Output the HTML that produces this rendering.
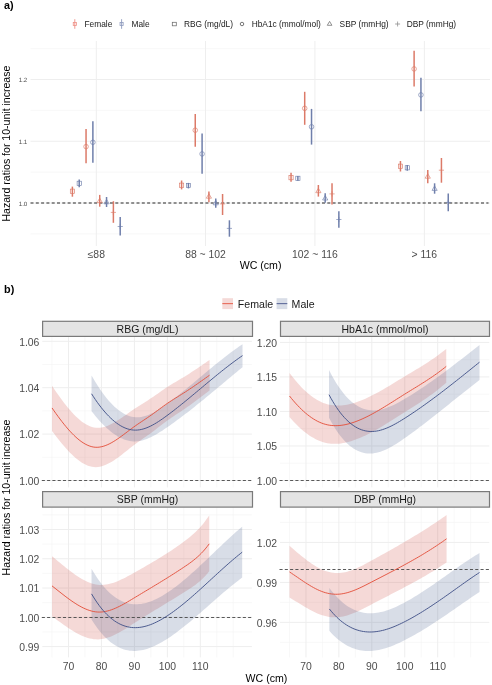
<!DOCTYPE html>
<html><head><meta charset="utf-8"><style>
html,body{margin:0;padding:0;background:#fff;}
svg{display:block;font-family:"Liberation Sans", sans-serif;will-change:transform;}
</style></head><body>
<svg width="492" height="685" viewBox="0 0 492 685">
<rect width="492" height="685" fill="#fff"/>
<text x="4.1" y="8.9" font-size="10.8" fill="#000" text-anchor="start" font-weight="bold" >a)</text>
<line x1="74.8" y1="19.2" x2="74.8" y2="28.8" stroke="#EE8F86" stroke-width="0.9"/>
<rect x="73.25" y="22.55" width="3.1" height="2.9" fill="none" stroke="#EE8F86" stroke-width="0.8"/>
<text x="84.5" y="27" font-size="8.35" fill="#1A1A1A" text-anchor="start" font-weight="normal" >Female</text>
<line x1="121.6" y1="19.2" x2="121.6" y2="28.8" stroke="#8D9ABD" stroke-width="0.9"/>
<rect x="120.05" y="22.55" width="3.1" height="2.9" fill="none" stroke="#8D9ABD" stroke-width="0.8"/>
<text x="131.5" y="27" font-size="8.35" fill="#1A1A1A" text-anchor="start" font-weight="normal" >Male</text>
<rect x="172.3" y="22.3" width="4.0" height="3.5" fill="none" stroke="#6B6B6B" stroke-width="0.75"/>
<text x="183.9" y="27" font-size="8.35" fill="#1A1A1A" text-anchor="start" font-weight="normal" >RBG (mg/dL)</text>
<circle cx="242.0" cy="24" r="1.75" fill="none" stroke="#555555" stroke-width="0.8"/>
<text x="251.7" y="27" font-size="8.35" fill="#1A1A1A" text-anchor="start" font-weight="normal" >HbA1c (mmol/mol)</text>
<path d="M327.3,25.3 L331.9,25.3 L329.6,21.4 Z" fill="none" stroke="#6B6B6B" stroke-width="0.75"/>
<text x="339.6" y="27" font-size="8.35" fill="#1A1A1A" text-anchor="start" font-weight="normal" >SBP (mmHg)</text>
<path d="M395.1,24 L400.1,24 M397.6,21.5 L397.6,26.5" fill="none" stroke="#8A8A8A" stroke-width="0.75"/>
<text x="406.7" y="27" font-size="8.35" fill="#1A1A1A" text-anchor="start" font-weight="normal" >DBP (mmHg)</text>
<line x1="30.5" y1="233.88" x2="490" y2="233.88" stroke="#F4F4F4" stroke-width="0.6"/>
<line x1="30.5" y1="172.12" x2="490" y2="172.12" stroke="#F4F4F4" stroke-width="0.6"/>
<line x1="30.5" y1="110.38" x2="490" y2="110.38" stroke="#F4F4F4" stroke-width="0.6"/>
<line x1="30.5" y1="48.62" x2="490" y2="48.62" stroke="#F4F4F4" stroke-width="0.6"/>
<line x1="30.5" y1="203" x2="490" y2="203" stroke="#EEEEEE" stroke-width="1.0"/>
<line x1="30.5" y1="141.25" x2="490" y2="141.25" stroke="#EEEEEE" stroke-width="1.0"/>
<line x1="30.5" y1="79.5" x2="490" y2="79.5" stroke="#EEEEEE" stroke-width="1.0"/>
<line x1="96.3" y1="41" x2="96.3" y2="246" stroke="#EEEEEE" stroke-width="1.0"/>
<line x1="205.5" y1="41" x2="205.5" y2="246" stroke="#EEEEEE" stroke-width="1.0"/>
<line x1="314.95" y1="41" x2="314.95" y2="246" stroke="#EEEEEE" stroke-width="1.0"/>
<line x1="424.35" y1="41" x2="424.35" y2="246" stroke="#EEEEEE" stroke-width="1.0"/>
<line x1="30.5" y1="203" x2="488.5" y2="203" stroke="#6E6E6E" stroke-width="1.5" stroke-dasharray="3 2.3"/>
<text x="27.3" y="205.5" font-size="6.2" fill="#4D4D4D" text-anchor="end" font-weight="normal" text-rendering="geometricPrecision">1.0</text>
<text x="27.3" y="143.75" font-size="6.2" fill="#4D4D4D" text-anchor="end" font-weight="normal" text-rendering="geometricPrecision">1.1</text>
<text x="27.3" y="82" font-size="6.2" fill="#4D4D4D" text-anchor="end" font-weight="normal" text-rendering="geometricPrecision">1.2</text>
<text x="96.3" y="257.9" font-size="10.4" fill="#4D4D4D" text-anchor="middle" font-weight="normal" >≤88</text>
<text x="205.5" y="257.9" font-size="10.4" fill="#4D4D4D" text-anchor="middle" font-weight="normal" >88 ~ 102</text>
<text x="314.95" y="257.9" font-size="10.4" fill="#4D4D4D" text-anchor="middle" font-weight="normal" >102 ~ 116</text>
<text x="424.35" y="257.9" font-size="10.4" fill="#4D4D4D" text-anchor="middle" font-weight="normal" >&gt; 116</text>
<text x="260.6" y="269.4" font-size="10.6" fill="#000" text-anchor="middle" font-weight="normal" >WC (cm)</text>
<text transform="translate(10.3,143.6) rotate(-90)" font-size="10.55" fill="#000" text-anchor="middle">Hazard ratios for 10-unit increase</text>
<line x1="72.39" y1="186.6" x2="72.39" y2="196.7" stroke="#DC7A68" stroke-width="1.5"/>
<rect x="70.3" y="189.1" width="4.2" height="4.2" fill="none" stroke="#DC7A68" stroke-width="0.65"/>
<line x1="79.22" y1="179.6" x2="79.22" y2="187.2" stroke="#6F7FAB" stroke-width="1.5"/>
<rect x="77.12" y="181.2" width="4.2" height="4.2" fill="none" stroke="#6F7FAB" stroke-width="0.65"/>
<line x1="86.05" y1="129.1" x2="86.05" y2="163.3" stroke="#DC7A68" stroke-width="1.5"/>
<circle cx="86.05" cy="146.6" r="2.3" fill="none" stroke="#DC7A68" stroke-width="0.65"/>
<line x1="92.88" y1="121.3" x2="92.88" y2="162.7" stroke="#6F7FAB" stroke-width="1.5"/>
<circle cx="92.88" cy="142.3" r="2.3" fill="none" stroke="#6F7FAB" stroke-width="0.65"/>
<line x1="99.72" y1="194.9" x2="99.72" y2="206.7" stroke="#DC7A68" stroke-width="1.5"/>
<path d="M97.12,202.6 L102.31,202.6 L99.72,198.1 Z" fill="none" stroke="#DC7A68" stroke-width="0.65"/>
<line x1="106.55" y1="197" x2="106.55" y2="207" stroke="#6F7FAB" stroke-width="1.5"/>
<path d="M103.95,203.8 L109.14,203.8 L106.55,199.3 Z" fill="none" stroke="#6F7FAB" stroke-width="0.65"/>
<line x1="113.38" y1="201.2" x2="113.38" y2="222.8" stroke="#DC7A68" stroke-width="1.5"/>
<path d="M110.78,212.4 L115.97,212.4 M113.38,209.8 L113.38,215" fill="none" stroke="#DC7A68" stroke-width="0.65"/>
<line x1="120.2" y1="217.1" x2="120.2" y2="235.6" stroke="#6F7FAB" stroke-width="1.5"/>
<path d="M117.61,226.5 L122.8,226.5 M120.2,223.9 L120.2,229.1" fill="none" stroke="#6F7FAB" stroke-width="0.65"/>
<line x1="181.59" y1="180.5" x2="181.59" y2="189.4" stroke="#DC7A68" stroke-width="1.5"/>
<rect x="179.5" y="183.1" width="4.2" height="4.2" fill="none" stroke="#DC7A68" stroke-width="0.65"/>
<line x1="188.43" y1="182.9" x2="188.43" y2="188.4" stroke="#6F7FAB" stroke-width="1.5"/>
<rect x="186.33" y="183.4" width="4.2" height="4.2" fill="none" stroke="#6F7FAB" stroke-width="0.65"/>
<line x1="195.25" y1="114.1" x2="195.25" y2="146.8" stroke="#DC7A68" stroke-width="1.5"/>
<circle cx="195.25" cy="130.2" r="2.3" fill="none" stroke="#DC7A68" stroke-width="0.65"/>
<line x1="202.09" y1="133.4" x2="202.09" y2="173.7" stroke="#6F7FAB" stroke-width="1.5"/>
<circle cx="202.09" cy="153.9" r="2.3" fill="none" stroke="#6F7FAB" stroke-width="0.65"/>
<line x1="208.91" y1="191.4" x2="208.91" y2="202.3" stroke="#DC7A68" stroke-width="1.5"/>
<path d="M206.31,198.2 L211.51,198.2 L208.91,193.7 Z" fill="none" stroke="#DC7A68" stroke-width="0.65"/>
<line x1="215.75" y1="198.6" x2="215.75" y2="207.8" stroke="#6F7FAB" stroke-width="1.5"/>
<path d="M213.15,204.8 L218.34,204.8 L215.75,200.3 Z" fill="none" stroke="#6F7FAB" stroke-width="0.65"/>
<line x1="222.57" y1="194" x2="222.57" y2="215" stroke="#DC7A68" stroke-width="1.5"/>
<path d="M219.97,203.9 L225.17,203.9 M222.57,201.3 L222.57,206.5" fill="none" stroke="#DC7A68" stroke-width="0.65"/>
<line x1="229.41" y1="220.3" x2="229.41" y2="236.7" stroke="#6F7FAB" stroke-width="1.5"/>
<path d="M226.81,228.4 L232,228.4 M229.41,225.8 L229.41,231" fill="none" stroke="#6F7FAB" stroke-width="0.65"/>
<line x1="291.04" y1="172.8" x2="291.04" y2="181.7" stroke="#DC7A68" stroke-width="1.5"/>
<rect x="288.94" y="175.6" width="4.2" height="4.2" fill="none" stroke="#DC7A68" stroke-width="0.65"/>
<line x1="297.88" y1="175.9" x2="297.88" y2="180.7" stroke="#6F7FAB" stroke-width="1.5"/>
<rect x="295.77" y="176.2" width="4.2" height="4.2" fill="none" stroke="#6F7FAB" stroke-width="0.65"/>
<line x1="304.7" y1="91.8" x2="304.7" y2="124.8" stroke="#DC7A68" stroke-width="1.5"/>
<circle cx="304.7" cy="108.3" r="2.3" fill="none" stroke="#DC7A68" stroke-width="0.65"/>
<line x1="311.53" y1="108.9" x2="311.53" y2="144.6" stroke="#6F7FAB" stroke-width="1.5"/>
<circle cx="311.53" cy="126.8" r="2.3" fill="none" stroke="#6F7FAB" stroke-width="0.65"/>
<line x1="318.37" y1="185" x2="318.37" y2="196.6" stroke="#DC7A68" stroke-width="1.5"/>
<path d="M315.76,192.7 L320.97,192.7 L318.37,188.2 Z" fill="none" stroke="#DC7A68" stroke-width="0.65"/>
<line x1="325.19" y1="193.2" x2="325.19" y2="202.7" stroke="#6F7FAB" stroke-width="1.5"/>
<path d="M322.59,200 L327.8,200 L325.19,195.5 Z" fill="none" stroke="#6F7FAB" stroke-width="0.65"/>
<line x1="332.02" y1="183.2" x2="332.02" y2="204.5" stroke="#DC7A68" stroke-width="1.5"/>
<path d="M329.42,193.9 L334.62,193.9 M332.02,191.3 L332.02,196.5" fill="none" stroke="#DC7A68" stroke-width="0.65"/>
<line x1="338.86" y1="211.2" x2="338.86" y2="227.7" stroke="#6F7FAB" stroke-width="1.5"/>
<path d="M336.25,219.5 L341.46,219.5 M338.86,216.9 L338.86,222.1" fill="none" stroke="#6F7FAB" stroke-width="0.65"/>
<line x1="400.45" y1="161" x2="400.45" y2="171.5" stroke="#DC7A68" stroke-width="1.5"/>
<rect x="398.35" y="164.1" width="4.2" height="4.2" fill="none" stroke="#DC7A68" stroke-width="0.65"/>
<line x1="407.28" y1="165" x2="407.28" y2="170.7" stroke="#6F7FAB" stroke-width="1.5"/>
<rect x="405.18" y="165.7" width="4.2" height="4.2" fill="none" stroke="#6F7FAB" stroke-width="0.65"/>
<line x1="414.11" y1="50.7" x2="414.11" y2="86.6" stroke="#DC7A68" stroke-width="1.5"/>
<circle cx="414.11" cy="68.9" r="2.3" fill="none" stroke="#DC7A68" stroke-width="0.65"/>
<line x1="420.94" y1="77.8" x2="420.94" y2="111.3" stroke="#6F7FAB" stroke-width="1.5"/>
<circle cx="420.94" cy="94.9" r="2.3" fill="none" stroke="#6F7FAB" stroke-width="0.65"/>
<line x1="427.77" y1="169.9" x2="427.77" y2="183.3" stroke="#DC7A68" stroke-width="1.5"/>
<path d="M425.17,178.2 L430.37,178.2 L427.77,173.7 Z" fill="none" stroke="#DC7A68" stroke-width="0.65"/>
<line x1="434.6" y1="183.3" x2="434.6" y2="193.7" stroke="#6F7FAB" stroke-width="1.5"/>
<path d="M432,190.4 L437.2,190.4 L434.6,185.9 Z" fill="none" stroke="#6F7FAB" stroke-width="0.65"/>
<line x1="441.43" y1="158" x2="441.43" y2="182.7" stroke="#DC7A68" stroke-width="1.5"/>
<path d="M438.82,170.2 L444.03,170.2 M441.43,167.6 L441.43,172.8" fill="none" stroke="#DC7A68" stroke-width="0.65"/>
<line x1="448.25" y1="193.4" x2="448.25" y2="211.3" stroke="#6F7FAB" stroke-width="1.5"/>
<path d="M445.65,202.4 L450.86,202.4 M448.25,199.8 L448.25,205" fill="none" stroke="#6F7FAB" stroke-width="0.65"/>
<text x="4.1" y="293.2" font-size="10.8" fill="#000" text-anchor="start" font-weight="bold" >b)</text>
<rect x="222.3" y="298.2" width="10.7" height="10.9" fill="rgba(204,64,56,0.2)"/>
<line x1="222.3" y1="303.65" x2="233" y2="303.65" stroke="#E4533F" stroke-width="0.9"/>
<text x="237.8" y="307.9" font-size="10.6" fill="#1A1A1A" text-anchor="start" font-weight="normal" >Female</text>
<rect x="276.6" y="298.2" width="10.7" height="10.9" fill="rgba(60,84,136,0.2)"/>
<line x1="276.6" y1="303.65" x2="287.3" y2="303.65" stroke="#45548A" stroke-width="0.9"/>
<text x="291.6" y="307.9" font-size="10.6" fill="#1A1A1A" text-anchor="start" font-weight="normal" >Male</text>
<g>
<line x1="42.3" y1="457.3" x2="251.9" y2="457.3" stroke="#F4F4F4" stroke-width="0.6"/>
<line x1="42.3" y1="410.9" x2="251.9" y2="410.9" stroke="#F4F4F4" stroke-width="0.6"/>
<line x1="42.3" y1="364.5" x2="251.9" y2="364.5" stroke="#F4F4F4" stroke-width="0.6"/>
<line x1="52" y1="336.9" x2="52" y2="487.4" stroke="#F4F4F4" stroke-width="0.6"/>
<line x1="84.96" y1="336.9" x2="84.96" y2="487.4" stroke="#F4F4F4" stroke-width="0.6"/>
<line x1="117.92" y1="336.9" x2="117.92" y2="487.4" stroke="#F4F4F4" stroke-width="0.6"/>
<line x1="150.88" y1="336.9" x2="150.88" y2="487.4" stroke="#F4F4F4" stroke-width="0.6"/>
<line x1="183.84" y1="336.9" x2="183.84" y2="487.4" stroke="#F4F4F4" stroke-width="0.6"/>
<line x1="216.8" y1="336.9" x2="216.8" y2="487.4" stroke="#F4F4F4" stroke-width="0.6"/>
<line x1="233.28" y1="336.9" x2="233.28" y2="487.4" stroke="#F4F4F4" stroke-width="0.6"/>
<line x1="42.3" y1="480.5" x2="251.9" y2="480.5" stroke="#EEEEEE" stroke-width="1.0"/>
<line x1="42.3" y1="434.1" x2="251.9" y2="434.1" stroke="#EEEEEE" stroke-width="1.0"/>
<line x1="42.3" y1="387.7" x2="251.9" y2="387.7" stroke="#EEEEEE" stroke-width="1.0"/>
<line x1="42.3" y1="341.3" x2="251.9" y2="341.3" stroke="#EEEEEE" stroke-width="1.0"/>
<line x1="68.48" y1="336.9" x2="68.48" y2="487.4" stroke="#EEEEEE" stroke-width="1.0"/>
<line x1="101.44" y1="336.9" x2="101.44" y2="487.4" stroke="#EEEEEE" stroke-width="1.0"/>
<line x1="134.4" y1="336.9" x2="134.4" y2="487.4" stroke="#EEEEEE" stroke-width="1.0"/>
<line x1="167.36" y1="336.9" x2="167.36" y2="487.4" stroke="#EEEEEE" stroke-width="1.0"/>
<line x1="200.32" y1="336.9" x2="200.32" y2="487.4" stroke="#EEEEEE" stroke-width="1.0"/>
</g>
<polygon points="52.00,385.74 53.99,388.72 55.99,391.66 57.98,394.53 59.98,397.34 61.97,400.07 63.97,402.73 65.96,405.29 67.95,407.76 69.95,410.12 71.94,412.37 73.94,414.49 75.93,416.49 77.93,418.36 79.92,420.08 81.91,421.64 83.91,423.05 85.90,424.29 87.90,425.36 89.89,426.25 91.89,426.94 93.88,427.43 95.87,427.72 97.87,427.81 99.86,427.71 101.86,427.43 103.85,426.98 105.85,426.39 107.84,425.65 109.83,424.79 111.83,423.82 113.82,422.74 115.82,421.58 117.81,420.34 119.81,419.05 121.80,417.70 123.79,416.31 125.79,414.91 127.78,413.49 129.78,412.07 131.77,410.67 133.77,409.30 135.76,407.97 137.75,406.67 139.75,405.40 141.74,404.15 143.74,402.91 145.73,401.66 147.73,400.40 149.72,399.11 151.71,397.79 153.71,396.43 155.70,395.05 157.70,393.65 159.69,392.25 161.69,390.85 163.68,389.47 165.67,388.12 167.67,386.80 169.66,385.53 171.66,384.29 173.65,383.08 175.65,381.89 177.64,380.71 179.63,379.54 181.63,378.35 183.62,377.15 185.62,375.93 187.61,374.68 189.61,373.41 191.60,372.12 193.59,370.81 195.59,369.49 197.58,368.15 199.58,366.80 201.57,365.44 203.57,364.07 205.56,362.69 207.55,361.31 209.55,359.93 209.55,390.51 207.55,392.04 205.56,393.57 203.57,395.09 201.57,396.60 199.58,398.10 197.58,399.60 195.59,401.07 193.59,402.54 191.60,403.98 189.61,405.41 187.61,406.82 185.62,408.20 183.62,409.56 181.63,410.90 179.63,412.22 177.64,413.53 175.65,414.85 173.65,416.18 171.66,417.52 169.66,418.89 167.67,420.30 165.67,421.76 163.68,423.25 161.69,424.77 159.69,426.30 157.70,427.85 155.70,429.39 153.71,430.91 151.71,432.41 149.72,433.88 147.73,435.31 145.73,436.72 143.74,438.11 141.74,439.50 139.75,440.91 137.75,442.33 135.76,443.78 133.77,445.27 131.77,446.80 129.78,448.36 127.78,449.94 125.79,451.52 123.79,453.09 121.80,454.65 119.81,456.17 117.81,457.64 115.82,459.05 113.82,460.40 111.83,461.65 109.83,462.82 107.84,463.87 105.85,464.79 103.85,465.59 101.86,466.23 99.86,466.71 97.87,467.02 95.87,467.14 93.88,467.07 91.89,466.79 89.89,466.32 87.90,465.66 85.90,464.82 83.91,463.81 81.91,462.64 79.92,461.32 77.93,459.84 75.93,458.23 73.94,456.49 71.94,454.62 69.95,452.64 67.95,450.55 65.96,448.36 63.97,446.08 61.97,443.71 59.98,441.26 57.98,438.75 55.99,436.18 53.99,433.55 52.00,430.88" fill="rgba(204,64,56,0.2)"/>
<polygon points="91.55,375.40 93.46,378.72 95.37,381.92 97.28,384.99 99.20,387.93 101.11,390.74 103.02,393.42 104.93,395.97 106.84,398.38 108.75,400.65 110.66,402.79 112.57,404.78 114.48,406.64 116.39,408.35 118.30,409.92 120.21,411.34 122.13,412.62 124.04,413.74 125.95,414.71 127.86,415.53 129.77,416.20 131.68,416.71 133.59,417.06 135.50,417.26 137.41,417.30 139.32,417.19 141.23,416.94 143.14,416.56 145.06,416.05 146.97,415.43 148.88,414.70 150.79,413.87 152.70,412.95 154.61,411.94 156.52,410.85 158.43,409.70 160.34,408.48 162.25,407.21 164.16,405.89 166.07,404.54 167.99,403.15 169.90,401.74 171.81,400.31 173.72,398.85 175.63,397.37 177.54,395.88 179.45,394.37 181.36,392.84 183.27,391.30 185.18,389.74 187.09,388.17 189.01,386.60 190.92,385.01 192.83,383.42 194.74,381.82 196.65,380.22 198.56,378.61 200.47,377.00 202.38,375.40 204.29,373.79 206.20,372.19 208.11,370.59 210.02,369.00 211.94,367.41 213.85,365.84 215.76,364.27 217.67,362.72 219.58,361.17 221.49,359.65 223.40,358.14 225.31,356.64 227.22,355.17 229.13,353.72 231.04,352.29 232.95,350.88 234.87,349.49 236.78,348.14 238.69,346.81 240.60,345.51 242.51,344.24 242.51,367.15 240.60,368.73 238.69,370.31 236.78,371.90 234.87,373.49 232.95,375.08 231.04,376.68 229.13,378.27 227.22,379.87 225.31,381.47 223.40,383.07 221.49,384.67 219.58,386.26 217.67,387.86 215.76,389.45 213.85,391.04 211.94,392.62 210.02,394.20 208.11,395.78 206.20,397.35 204.29,398.92 202.38,400.47 200.47,402.03 198.56,403.57 196.65,405.10 194.74,406.63 192.83,408.15 190.92,409.65 189.01,411.15 187.09,412.64 185.18,414.11 183.27,415.57 181.36,417.02 179.45,418.45 177.54,419.87 175.63,421.28 173.72,422.67 171.81,424.04 169.90,425.40 167.99,426.74 166.07,428.06 164.16,429.36 162.25,430.63 160.34,431.87 158.43,433.06 156.52,434.20 154.61,435.28 152.70,436.30 150.79,437.25 148.88,438.12 146.97,438.90 145.06,439.59 143.14,440.19 141.23,440.67 139.32,441.05 137.41,441.30 135.50,441.43 133.59,441.43 131.68,441.28 129.77,441.01 127.86,440.60 125.95,440.06 124.04,439.40 122.13,438.61 120.21,437.70 118.30,436.68 116.39,435.53 114.48,434.27 112.57,432.90 110.66,431.42 108.75,429.84 106.84,428.15 104.93,426.35 103.02,424.46 101.11,422.47 99.20,420.39 97.28,418.22 95.37,415.95 93.46,413.60 91.55,411.17" fill="rgba(60,84,136,0.2)"/>
<line x1="41.8" y1="480.5" x2="251.9" y2="480.5" stroke="#474747" stroke-width="0.9" stroke-dasharray="3.1 2.19"/>
<polyline points="52.00,407.94 53.99,410.79 55.99,413.60 57.98,416.34 59.98,419.02 61.97,421.63 63.97,424.16 65.96,426.60 67.95,428.94 69.95,431.18 71.94,433.31 73.94,435.32 75.93,437.20 77.93,438.94 79.92,440.54 81.91,441.99 83.91,443.29 85.90,444.41 87.90,445.37 89.89,446.14 91.89,446.72 93.88,447.11 95.87,447.29 97.87,447.27 99.86,447.06 101.86,446.67 103.85,446.12 105.85,445.42 107.84,444.58 109.83,443.62 111.83,442.54 113.82,441.37 115.82,440.11 117.81,438.77 119.81,437.38 121.80,435.93 123.79,434.46 125.79,432.96 127.78,431.45 129.78,429.94 131.77,428.45 133.77,426.99 135.76,425.57 137.75,424.19 139.75,422.84 141.74,421.50 143.74,420.18 145.73,418.85 147.73,417.51 149.72,416.14 151.71,414.74 153.71,413.31 155.70,411.85 157.70,410.38 159.69,408.90 161.69,407.44 163.68,405.99 165.67,404.56 167.67,403.18 169.66,401.84 171.66,400.54 173.65,399.27 175.65,398.02 177.64,396.78 179.63,395.54 181.63,394.30 183.62,393.04 185.62,391.76 187.61,390.46 189.61,389.14 191.60,387.80 193.59,386.44 195.59,385.07 197.58,383.68 199.58,382.29 201.57,380.88 203.57,379.47 205.56,378.05 207.55,376.63 209.55,375.21" fill="none" stroke="#E4533F" stroke-width="0.95"/>
<polyline points="91.55,393.78 93.46,396.73 95.37,399.57 97.28,402.30 99.20,404.92 101.11,407.41 103.02,409.79 104.93,412.04 106.84,414.18 108.75,416.18 110.66,418.07 112.57,419.82 114.48,421.44 116.39,422.93 118.30,424.28 120.21,425.50 122.13,426.59 124.04,427.53 125.95,428.33 127.86,428.98 129.77,429.49 131.68,429.86 133.59,430.07 135.50,430.14 137.41,430.05 139.32,429.83 141.23,429.48 143.14,429.00 145.06,428.40 146.97,427.69 148.88,426.88 150.79,425.98 152.70,424.99 154.61,423.92 156.52,422.78 158.43,421.58 160.34,420.31 162.25,419.00 164.16,417.65 166.07,416.27 167.99,414.86 169.90,413.42 171.81,411.97 173.72,410.50 175.63,409.01 177.54,407.51 179.45,405.99 181.36,404.46 183.27,402.91 185.18,401.36 187.09,399.79 189.01,398.22 190.92,396.64 192.83,395.05 194.74,393.46 196.65,391.87 198.56,390.27 200.47,388.67 202.38,387.07 204.29,385.47 206.20,383.87 208.11,382.28 210.02,380.69 211.94,379.11 213.85,377.54 215.76,375.97 217.67,374.42 219.58,372.87 221.49,371.34 223.40,369.82 225.31,368.31 227.22,366.82 229.13,365.35 231.04,363.89 232.95,362.46 234.87,361.04 236.78,359.65 238.69,358.28 240.60,356.93 242.51,355.61" fill="none" stroke="#45548A" stroke-width="0.95"/>
<rect x="42.6" y="321.3" width="209.9" height="15.1" fill="#E4E4E4" stroke="#7A7A7A" stroke-width="1.2"/>
<text x="147.55" y="332.8" font-size="10.5" fill="#1A1A1A" text-anchor="middle" font-weight="normal" >RBG (mg/dL)</text>
<text x="39.4" y="484.7" font-size="10.4" fill="#4D4D4D" text-anchor="end" font-weight="normal" >1.00</text>
<text x="39.4" y="438.3" font-size="10.4" fill="#4D4D4D" text-anchor="end" font-weight="normal" >1.02</text>
<text x="39.4" y="391.9" font-size="10.4" fill="#4D4D4D" text-anchor="end" font-weight="normal" >1.04</text>
<text x="39.4" y="345.5" font-size="10.4" fill="#4D4D4D" text-anchor="end" font-weight="normal" >1.06</text>
<g>
<line x1="280" y1="463.24" x2="489.3" y2="463.24" stroke="#F4F4F4" stroke-width="0.6"/>
<line x1="280" y1="428.71" x2="489.3" y2="428.71" stroke="#F4F4F4" stroke-width="0.6"/>
<line x1="280" y1="394.19" x2="489.3" y2="394.19" stroke="#F4F4F4" stroke-width="0.6"/>
<line x1="280" y1="359.66" x2="489.3" y2="359.66" stroke="#F4F4F4" stroke-width="0.6"/>
<line x1="289.5" y1="336.9" x2="289.5" y2="487.4" stroke="#F4F4F4" stroke-width="0.6"/>
<line x1="322.43" y1="336.9" x2="322.43" y2="487.4" stroke="#F4F4F4" stroke-width="0.6"/>
<line x1="355.36" y1="336.9" x2="355.36" y2="487.4" stroke="#F4F4F4" stroke-width="0.6"/>
<line x1="388.29" y1="336.9" x2="388.29" y2="487.4" stroke="#F4F4F4" stroke-width="0.6"/>
<line x1="421.22" y1="336.9" x2="421.22" y2="487.4" stroke="#F4F4F4" stroke-width="0.6"/>
<line x1="454.15" y1="336.9" x2="454.15" y2="487.4" stroke="#F4F4F4" stroke-width="0.6"/>
<line x1="470.62" y1="336.9" x2="470.62" y2="487.4" stroke="#F4F4F4" stroke-width="0.6"/>
<line x1="280" y1="480.5" x2="489.3" y2="480.5" stroke="#EEEEEE" stroke-width="1.0"/>
<line x1="280" y1="445.97" x2="489.3" y2="445.97" stroke="#EEEEEE" stroke-width="1.0"/>
<line x1="280" y1="411.45" x2="489.3" y2="411.45" stroke="#EEEEEE" stroke-width="1.0"/>
<line x1="280" y1="376.93" x2="489.3" y2="376.93" stroke="#EEEEEE" stroke-width="1.0"/>
<line x1="280" y1="342.4" x2="489.3" y2="342.4" stroke="#EEEEEE" stroke-width="1.0"/>
<line x1="305.96" y1="336.9" x2="305.96" y2="487.4" stroke="#EEEEEE" stroke-width="1.0"/>
<line x1="338.89" y1="336.9" x2="338.89" y2="487.4" stroke="#EEEEEE" stroke-width="1.0"/>
<line x1="371.82" y1="336.9" x2="371.82" y2="487.4" stroke="#EEEEEE" stroke-width="1.0"/>
<line x1="404.75" y1="336.9" x2="404.75" y2="487.4" stroke="#EEEEEE" stroke-width="1.0"/>
<line x1="437.69" y1="336.9" x2="437.69" y2="487.4" stroke="#EEEEEE" stroke-width="1.0"/>
</g>
<polygon points="289.50,373.00 291.48,375.61 293.47,378.12 295.45,380.52 297.44,382.83 299.42,385.04 301.40,387.14 303.39,389.13 305.37,391.02 307.36,392.80 309.34,394.47 311.33,396.02 313.31,397.46 315.29,398.79 317.28,399.99 319.26,401.08 321.25,402.05 323.23,402.89 325.21,403.61 327.20,404.21 329.18,404.70 331.17,405.08 333.15,405.36 335.14,405.53 337.12,405.61 339.10,405.60 341.09,405.49 343.07,405.31 345.06,405.04 347.04,404.70 349.02,404.28 351.01,403.80 352.99,403.26 354.98,402.65 356.96,402.00 358.94,401.29 360.93,400.53 362.91,399.72 364.90,398.88 366.88,397.99 368.87,397.06 370.85,396.09 372.83,395.09 374.82,394.06 376.80,393.00 378.79,391.91 380.77,390.80 382.75,389.66 384.74,388.51 386.72,387.34 388.71,386.16 390.69,384.96 392.68,383.76 394.66,382.55 396.64,381.34 398.63,380.12 400.61,378.90 402.60,377.69 404.58,376.49 406.56,375.29 408.55,374.10 410.53,372.91 412.52,371.72 414.50,370.53 416.48,369.33 418.47,368.13 420.45,366.92 422.44,365.69 424.42,364.45 426.41,363.19 428.39,361.90 430.37,360.60 432.36,359.26 434.34,357.90 436.33,356.50 438.31,355.07 440.29,353.60 442.28,352.09 444.26,350.54 446.25,348.94 446.25,382.64 444.26,384.40 442.28,386.10 440.29,387.76 438.31,389.37 436.33,390.93 434.34,392.45 432.36,393.93 430.37,395.37 428.39,396.79 426.41,398.17 424.42,399.53 422.44,400.86 420.45,402.17 418.47,403.46 416.48,404.74 414.50,406.01 412.52,407.27 410.53,408.52 408.55,409.78 406.56,411.03 404.58,412.28 402.60,413.54 400.61,414.81 398.63,416.08 396.64,417.34 394.66,418.61 392.68,419.86 390.69,421.11 388.71,422.36 386.72,423.59 384.74,424.80 382.75,426.00 380.77,427.18 378.79,428.34 376.80,429.48 374.82,430.59 372.83,431.68 370.85,432.74 368.87,433.76 366.88,434.75 364.90,435.71 362.91,436.62 360.93,437.50 358.94,438.33 356.96,439.12 354.98,439.86 352.99,440.55 351.01,441.18 349.02,441.76 347.04,442.28 345.06,442.73 343.07,443.11 341.09,443.42 339.10,443.65 337.12,443.79 335.14,443.86 333.15,443.83 331.17,443.71 329.18,443.49 327.20,443.17 325.21,442.75 323.23,442.22 321.25,441.57 319.26,440.81 317.28,439.94 315.29,438.96 313.31,437.87 311.33,436.68 309.34,435.38 307.36,433.98 305.37,432.48 303.39,430.88 301.40,429.19 299.42,427.40 297.44,425.52 295.45,423.55 293.47,421.49 291.48,419.35 289.50,417.12" fill="rgba(204,64,56,0.2)"/>
<polygon points="329.02,370.04 330.92,373.74 332.83,377.25 334.73,380.55 336.64,383.66 338.54,386.57 340.45,389.29 342.35,391.84 344.26,394.19 346.16,396.38 348.07,398.39 349.97,400.22 351.88,401.90 353.78,403.41 355.69,404.76 357.59,405.96 359.50,407.00 361.40,407.90 363.30,408.66 365.21,409.27 367.11,409.75 369.02,410.10 370.92,410.32 372.83,410.41 374.73,410.39 376.64,410.25 378.54,410.00 380.45,409.65 382.35,409.21 384.26,408.68 386.16,408.06 388.07,407.37 389.97,406.60 391.88,405.77 393.78,404.88 395.69,403.93 397.59,402.94 399.50,401.91 401.40,400.84 403.31,399.74 405.21,398.62 407.12,397.48 409.02,396.32 410.93,395.15 412.83,393.95 414.74,392.74 416.64,391.52 418.55,390.28 420.45,389.02 422.36,387.75 424.26,386.46 426.17,385.16 428.07,383.84 429.98,382.52 431.88,381.18 433.79,379.82 435.69,378.46 437.60,377.08 439.50,375.70 441.41,374.30 443.31,372.90 445.22,371.48 447.12,370.06 449.03,368.63 450.93,367.19 452.84,365.74 454.74,364.28 456.65,362.82 458.55,361.36 460.46,359.88 462.36,358.41 464.27,356.92 466.17,355.44 468.08,353.95 469.98,352.45 471.89,350.96 473.79,349.46 475.70,347.96 477.60,346.46 479.51,344.96 479.51,380.04 477.60,381.50 475.70,382.97 473.79,384.44 471.89,385.93 469.98,387.42 468.08,388.92 466.17,390.43 464.27,391.94 462.36,393.45 460.46,394.97 458.55,396.49 456.65,398.02 454.74,399.54 452.84,401.07 450.93,402.60 449.03,404.13 447.12,405.66 445.22,407.18 443.31,408.71 441.41,410.23 439.50,411.75 437.60,413.26 435.69,414.77 433.79,416.28 431.88,417.78 429.98,419.27 428.07,420.76 426.17,422.23 424.26,423.70 422.36,425.16 420.45,426.61 418.55,428.05 416.64,429.48 414.74,430.90 412.83,432.30 410.93,433.69 409.02,435.07 407.12,436.43 405.21,437.78 403.31,439.11 401.40,440.42 399.50,441.70 397.59,442.95 395.69,444.17 393.78,445.33 391.88,446.45 389.97,447.50 388.07,448.49 386.16,449.42 384.26,450.26 382.35,451.02 380.45,451.70 378.54,452.28 376.64,452.75 374.73,453.12 372.83,453.38 370.92,453.51 369.02,453.52 367.11,453.41 365.21,453.15 363.30,452.77 361.40,452.24 359.50,451.56 357.59,450.74 355.69,449.76 353.78,448.63 351.88,447.34 349.97,445.88 348.07,444.25 346.16,442.45 344.26,440.48 342.35,438.32 340.45,435.98 338.54,433.45 336.64,430.73 334.73,427.81 332.83,424.69 330.92,421.37 329.02,417.84" fill="rgba(60,84,136,0.2)"/>
<line x1="279.5" y1="480.5" x2="489.3" y2="480.5" stroke="#474747" stroke-width="0.9" stroke-dasharray="3.1 2.19"/>
<polyline points="289.50,395.99 291.48,398.45 293.47,400.82 295.45,403.09 297.44,405.25 299.42,407.32 301.40,409.29 303.39,411.15 305.37,412.91 307.36,414.55 309.34,416.09 311.33,417.52 313.31,418.84 315.29,420.04 317.28,421.13 319.26,422.10 321.25,422.95 323.23,423.68 325.21,424.28 327.20,424.78 329.18,425.16 331.17,425.43 333.15,425.60 335.14,425.67 337.12,425.65 339.10,425.54 341.09,425.34 343.07,425.05 345.06,424.69 347.04,424.26 349.02,423.76 351.01,423.19 352.99,422.56 354.98,421.87 356.96,421.13 358.94,420.34 360.93,419.51 362.91,418.63 364.90,417.70 366.88,416.74 368.87,415.74 370.85,414.71 372.83,413.64 374.82,412.54 376.80,411.42 378.79,410.27 380.77,409.10 382.75,407.91 384.74,406.70 386.72,405.48 388.71,404.25 390.69,403.00 392.68,401.75 394.66,400.50 396.64,399.24 398.63,397.98 400.61,396.73 402.60,395.48 404.58,394.23 406.56,393.00 408.55,391.78 410.53,390.56 412.52,389.34 414.50,388.13 416.48,386.91 418.47,385.68 420.45,384.45 422.44,383.20 424.42,381.94 426.41,380.67 428.39,379.37 430.37,378.05 432.36,376.71 434.34,375.34 436.33,373.94 438.31,372.51 440.29,371.04 442.28,369.53 444.26,367.97 446.25,366.38" fill="none" stroke="#E4533F" stroke-width="0.95"/>
<polyline points="329.02,394.70 330.92,398.21 332.83,401.53 334.73,404.64 336.64,407.56 338.54,410.30 340.45,412.85 342.35,415.21 344.26,417.40 346.16,419.42 348.07,421.26 349.97,422.94 351.88,424.46 353.78,425.81 355.69,427.02 357.59,428.07 359.50,428.97 361.40,429.72 363.30,430.34 365.21,430.82 367.11,431.17 369.02,431.39 370.92,431.48 372.83,431.45 374.73,431.31 376.64,431.05 378.54,430.69 380.45,430.23 382.35,429.67 384.26,429.03 386.16,428.31 388.07,427.51 389.97,426.64 391.88,425.72 393.78,424.73 395.69,423.69 397.59,422.61 399.50,421.49 401.40,420.33 403.31,419.15 405.21,417.94 407.12,416.72 409.02,415.49 410.93,414.23 412.83,412.96 414.74,411.68 416.64,410.38 418.55,409.07 420.45,407.74 422.36,406.41 424.26,405.05 426.17,403.69 428.07,402.31 429.98,400.93 431.88,399.53 433.79,398.12 435.69,396.70 437.60,395.27 439.50,393.83 441.41,392.38 443.31,390.93 445.22,389.46 447.12,387.99 449.03,386.51 450.93,385.02 452.84,383.53 454.74,382.03 456.65,380.53 458.55,379.02 460.46,377.50 462.36,375.98 464.27,374.46 466.17,372.93 468.08,371.40 469.98,369.87 471.89,368.34 473.79,366.80 475.70,365.27 477.60,363.73 479.51,362.19" fill="none" stroke="#45548A" stroke-width="0.95"/>
<rect x="280.5" y="321.3" width="209" height="15.1" fill="#E4E4E4" stroke="#7A7A7A" stroke-width="1.2"/>
<text x="385" y="332.8" font-size="10.5" fill="#1A1A1A" text-anchor="middle" font-weight="normal" >HbA1c (mmol/mol)</text>
<text x="277.1" y="484.7" font-size="10.4" fill="#4D4D4D" text-anchor="end" font-weight="normal" >1.00</text>
<text x="277.1" y="450.17" font-size="10.4" fill="#4D4D4D" text-anchor="end" font-weight="normal" >1.05</text>
<text x="277.1" y="415.65" font-size="10.4" fill="#4D4D4D" text-anchor="end" font-weight="normal" >1.10</text>
<text x="277.1" y="381.13" font-size="10.4" fill="#4D4D4D" text-anchor="end" font-weight="normal" >1.15</text>
<text x="277.1" y="346.6" font-size="10.4" fill="#4D4D4D" text-anchor="end" font-weight="normal" >1.20</text>
<g>
<line x1="42.3" y1="631.94" x2="251.9" y2="631.94" stroke="#F4F4F4" stroke-width="0.6"/>
<line x1="42.3" y1="602.66" x2="251.9" y2="602.66" stroke="#F4F4F4" stroke-width="0.6"/>
<line x1="42.3" y1="573.38" x2="251.9" y2="573.38" stroke="#F4F4F4" stroke-width="0.6"/>
<line x1="42.3" y1="544.1" x2="251.9" y2="544.1" stroke="#F4F4F4" stroke-width="0.6"/>
<line x1="42.3" y1="514.82" x2="251.9" y2="514.82" stroke="#F4F4F4" stroke-width="0.6"/>
<line x1="52" y1="507.5" x2="52" y2="657.4" stroke="#F4F4F4" stroke-width="0.6"/>
<line x1="84.96" y1="507.5" x2="84.96" y2="657.4" stroke="#F4F4F4" stroke-width="0.6"/>
<line x1="117.92" y1="507.5" x2="117.92" y2="657.4" stroke="#F4F4F4" stroke-width="0.6"/>
<line x1="150.88" y1="507.5" x2="150.88" y2="657.4" stroke="#F4F4F4" stroke-width="0.6"/>
<line x1="183.84" y1="507.5" x2="183.84" y2="657.4" stroke="#F4F4F4" stroke-width="0.6"/>
<line x1="216.8" y1="507.5" x2="216.8" y2="657.4" stroke="#F4F4F4" stroke-width="0.6"/>
<line x1="233.28" y1="507.5" x2="233.28" y2="657.4" stroke="#F4F4F4" stroke-width="0.6"/>
<line x1="42.3" y1="646.58" x2="251.9" y2="646.58" stroke="#EEEEEE" stroke-width="1.0"/>
<line x1="42.3" y1="617.3" x2="251.9" y2="617.3" stroke="#EEEEEE" stroke-width="1.0"/>
<line x1="42.3" y1="588.02" x2="251.9" y2="588.02" stroke="#EEEEEE" stroke-width="1.0"/>
<line x1="42.3" y1="558.74" x2="251.9" y2="558.74" stroke="#EEEEEE" stroke-width="1.0"/>
<line x1="42.3" y1="529.46" x2="251.9" y2="529.46" stroke="#EEEEEE" stroke-width="1.0"/>
<line x1="68.48" y1="507.5" x2="68.48" y2="657.4" stroke="#EEEEEE" stroke-width="1.0"/>
<line x1="101.44" y1="507.5" x2="101.44" y2="657.4" stroke="#EEEEEE" stroke-width="1.0"/>
<line x1="134.4" y1="507.5" x2="134.4" y2="657.4" stroke="#EEEEEE" stroke-width="1.0"/>
<line x1="167.36" y1="507.5" x2="167.36" y2="657.4" stroke="#EEEEEE" stroke-width="1.0"/>
<line x1="200.32" y1="507.5" x2="200.32" y2="657.4" stroke="#EEEEEE" stroke-width="1.0"/>
</g>
<polygon points="52.00,556.24 53.99,557.86 55.98,559.49 57.97,561.14 59.96,562.78 61.95,564.42 63.94,566.05 65.93,567.65 67.92,569.23 69.91,570.78 71.90,572.28 73.89,573.73 75.88,575.13 77.87,576.46 79.86,577.72 81.85,578.91 83.84,580.01 85.83,581.02 87.82,581.93 89.81,582.73 91.80,583.42 93.79,583.99 95.78,584.43 97.77,584.74 99.76,584.90 101.75,584.93 103.74,584.83 105.73,584.61 107.72,584.27 109.71,583.83 111.70,583.29 113.69,582.65 115.68,581.94 117.67,581.15 119.66,580.29 121.65,579.37 123.64,578.40 125.63,577.39 127.62,576.34 129.61,575.26 131.60,574.16 133.59,573.05 135.58,571.93 137.58,570.81 139.57,569.68 141.56,568.55 143.55,567.42 145.54,566.27 147.53,565.12 149.52,563.96 151.51,562.79 153.50,561.62 155.49,560.43 157.48,559.22 159.47,558.01 161.46,556.78 163.45,555.53 165.44,554.27 167.43,552.99 169.42,551.69 171.41,550.38 173.40,549.04 175.39,547.69 177.38,546.31 179.37,544.91 181.36,543.48 183.35,542.03 185.34,540.55 187.33,539.04 189.32,537.47 191.31,535.83 193.30,534.11 195.29,532.29 197.28,530.35 199.27,528.28 201.26,526.06 203.25,523.68 205.24,521.11 207.23,518.36 209.22,515.39 209.22,571.31 207.23,573.72 205.24,575.96 203.25,578.02 201.26,579.93 199.27,581.71 197.28,583.36 195.29,584.91 193.30,586.37 191.31,587.75 189.32,589.07 187.33,590.34 185.34,591.59 183.35,592.82 181.36,594.04 179.37,595.26 177.38,596.48 175.39,597.70 173.40,598.91 171.41,600.13 169.42,601.34 167.43,602.56 165.44,603.77 163.45,604.98 161.46,606.20 159.47,607.41 157.48,608.63 155.49,609.85 153.50,611.08 151.51,612.31 149.52,613.54 147.53,614.77 145.54,616.01 143.55,617.26 141.56,618.51 139.57,619.77 137.58,621.03 135.58,622.31 133.59,623.59 131.60,624.87 129.61,626.15 127.62,627.42 125.63,628.66 123.64,629.88 121.65,631.06 119.66,632.20 117.67,633.29 115.68,634.31 113.69,635.26 111.70,636.14 109.71,636.93 107.72,637.62 105.73,638.21 103.74,638.69 101.75,639.05 99.76,639.29 97.77,639.39 95.78,639.35 93.79,639.17 91.80,638.87 89.81,638.44 87.82,637.91 85.83,637.26 83.84,636.51 81.85,635.67 79.86,634.74 77.87,633.73 75.88,632.65 73.89,631.50 71.90,630.28 69.91,629.02 67.92,627.70 65.93,626.35 63.94,624.96 61.95,623.54 59.96,622.10 57.97,620.65 55.98,619.19 53.99,617.73 52.00,616.28" fill="rgba(204,64,56,0.2)"/>
<polygon points="91.55,568.65 93.46,571.93 95.37,575.03 97.27,577.95 99.18,580.69 101.09,583.27 102.99,585.68 104.90,587.92 106.81,590.00 108.71,591.92 110.62,593.70 112.53,595.32 114.43,596.79 116.34,598.12 118.25,599.31 120.15,600.36 122.06,601.28 123.97,602.07 125.87,602.73 127.78,603.27 129.69,603.69 131.59,604.00 133.50,604.19 135.41,604.27 137.31,604.25 139.22,604.12 141.13,603.90 143.03,603.58 144.94,603.17 146.85,602.67 148.75,602.09 150.66,601.42 152.57,600.68 154.47,599.86 156.38,598.97 158.29,598.02 160.19,597.00 162.10,595.91 164.01,594.78 165.91,593.58 167.82,592.34 169.73,591.05 171.63,589.72 173.54,588.34 175.45,586.92 177.35,585.46 179.26,583.96 181.17,582.43 183.07,580.87 184.98,579.27 186.89,577.64 188.79,575.99 190.70,574.31 192.61,572.61 194.51,570.89 196.42,569.14 198.33,567.38 200.23,565.61 202.14,563.82 204.05,562.02 205.95,560.21 207.86,558.39 209.77,556.57 211.67,554.74 213.58,552.92 215.49,551.09 217.39,549.26 219.30,547.44 221.21,545.63 223.11,543.83 225.02,542.03 226.93,540.25 228.83,538.48 230.74,536.73 232.65,535.00 234.55,533.28 236.46,531.59 238.37,529.93 240.27,528.29 242.18,526.68 242.18,577.57 240.27,578.98 238.37,580.43 236.46,581.90 234.55,583.39 232.65,584.92 230.74,586.47 228.83,588.04 226.93,589.63 225.02,591.24 223.11,592.86 221.21,594.50 219.30,596.15 217.39,597.82 215.49,599.49 213.58,601.17 211.67,602.85 209.77,604.53 207.86,606.22 205.95,607.91 204.05,609.59 202.14,611.27 200.23,612.94 198.33,614.60 196.42,616.25 194.51,617.89 192.61,619.52 190.70,621.13 188.79,622.72 186.89,624.29 184.98,625.84 183.07,627.36 181.17,628.86 179.26,630.33 177.35,631.77 175.45,633.18 173.54,634.56 171.63,635.90 169.73,637.20 167.82,638.46 165.91,639.69 164.01,640.86 162.10,641.99 160.19,643.07 158.29,644.10 156.38,645.07 154.47,645.97 152.57,646.81 150.66,647.59 148.75,648.29 146.85,648.92 144.94,649.46 143.03,649.93 141.13,650.32 139.22,650.61 137.31,650.81 135.41,650.92 133.50,650.93 131.59,650.84 129.69,650.64 127.78,650.33 125.87,649.92 123.97,649.38 122.06,648.73 120.15,647.96 118.25,647.06 116.34,646.03 114.43,644.87 112.53,643.57 110.62,642.14 108.71,640.56 106.81,638.84 104.90,636.96 102.99,634.94 101.09,632.76 99.18,630.42 97.27,627.92 95.37,625.25 93.46,622.41 91.55,619.40" fill="rgba(60,84,136,0.2)"/>
<line x1="41.8" y1="617.5" x2="251.9" y2="617.5" stroke="#474747" stroke-width="0.9" stroke-dasharray="3.1 2.19"/>
<polyline points="52.00,585.87 53.99,587.44 55.98,589.01 57.97,590.59 59.96,592.17 61.95,593.73 63.94,595.28 65.93,596.80 67.92,598.28 69.91,599.73 71.90,601.13 73.89,602.48 75.88,603.77 77.87,604.99 79.86,606.14 81.85,607.21 83.84,608.19 85.83,609.08 87.82,609.87 89.81,610.54 91.80,611.11 93.79,611.55 95.78,611.86 97.77,612.04 99.76,612.07 101.75,611.97 103.74,611.74 105.73,611.39 107.72,610.93 109.71,610.36 111.70,609.69 113.69,608.94 115.68,608.10 117.67,607.19 119.66,606.22 121.65,605.19 123.64,604.11 125.63,603.00 127.62,601.85 129.61,600.67 131.60,599.48 133.59,598.28 135.58,597.08 137.58,595.88 139.57,594.68 141.56,593.49 143.55,592.29 145.54,591.10 147.53,589.90 149.52,588.71 151.51,587.51 153.50,586.31 155.49,585.10 157.48,583.90 159.47,582.68 161.46,581.46 163.45,580.24 165.44,579.01 167.43,577.77 169.42,576.53 171.41,575.27 173.40,574.01 175.39,572.73 177.38,571.45 179.37,570.15 181.36,568.85 183.35,567.53 185.34,566.19 187.33,564.84 189.32,563.44 191.31,561.98 193.30,560.46 195.29,558.84 197.28,557.13 199.27,555.30 201.26,553.33 203.25,551.22 205.24,548.94 207.23,546.48 209.22,543.83" fill="none" stroke="#E4533F" stroke-width="0.95"/>
<polyline points="91.55,593.88 93.46,597.04 95.37,600.02 97.27,602.83 99.18,605.47 101.09,607.94 102.99,610.25 104.90,612.39 106.81,614.38 108.71,616.21 110.62,617.90 112.53,619.43 114.43,620.83 116.34,622.08 118.25,623.20 120.15,624.18 122.06,625.03 123.97,625.76 125.87,626.36 127.78,626.85 129.69,627.21 131.59,627.47 133.50,627.62 135.41,627.66 137.31,627.59 139.22,627.43 141.13,627.18 143.03,626.83 144.94,626.39 146.85,625.87 148.75,625.26 150.66,624.58 152.57,623.82 154.47,622.99 156.38,622.10 158.29,621.14 160.19,620.11 162.10,619.03 164.01,617.90 165.91,616.71 167.82,615.48 169.73,614.20 171.63,612.88 173.54,611.52 175.45,610.12 177.35,608.68 179.26,607.21 181.17,605.71 183.07,604.18 184.98,602.61 186.89,601.03 188.79,599.41 190.70,597.78 192.61,596.12 194.51,594.44 196.42,592.75 198.33,591.04 200.23,589.32 202.14,587.59 204.05,585.85 205.95,584.11 207.86,582.35 209.77,580.60 211.67,578.84 213.58,577.09 215.49,575.33 217.39,573.59 219.30,571.85 221.21,570.11 223.11,568.39 225.02,566.68 226.93,564.99 228.83,563.31 230.74,561.65 232.65,560.02 234.55,558.40 236.46,556.81 238.37,555.25 240.27,553.71 242.18,552.20" fill="none" stroke="#45548A" stroke-width="0.95"/>
<rect x="42.6" y="491.6" width="209.9" height="15.5" fill="#E4E4E4" stroke="#7A7A7A" stroke-width="1.2"/>
<text x="147.55" y="503.1" font-size="10.5" fill="#1A1A1A" text-anchor="middle" font-weight="normal" >SBP (mmHg)</text>
<text x="39.4" y="650.78" font-size="10.4" fill="#4D4D4D" text-anchor="end" font-weight="normal" >0.99</text>
<text x="39.4" y="621.5" font-size="10.4" fill="#4D4D4D" text-anchor="end" font-weight="normal" >1.00</text>
<text x="39.4" y="592.22" font-size="10.4" fill="#4D4D4D" text-anchor="end" font-weight="normal" >1.01</text>
<text x="39.4" y="562.94" font-size="10.4" fill="#4D4D4D" text-anchor="end" font-weight="normal" >1.02</text>
<text x="39.4" y="533.66" font-size="10.4" fill="#4D4D4D" text-anchor="end" font-weight="normal" >1.03</text>
<g>
<line x1="280" y1="642.38" x2="489.3" y2="642.38" stroke="#F4F4F4" stroke-width="0.6"/>
<line x1="280" y1="602.39" x2="489.3" y2="602.39" stroke="#F4F4F4" stroke-width="0.6"/>
<line x1="280" y1="562.41" x2="489.3" y2="562.41" stroke="#F4F4F4" stroke-width="0.6"/>
<line x1="280" y1="522.42" x2="489.3" y2="522.42" stroke="#F4F4F4" stroke-width="0.6"/>
<line x1="289.5" y1="507.5" x2="289.5" y2="657.4" stroke="#F4F4F4" stroke-width="0.6"/>
<line x1="322.43" y1="507.5" x2="322.43" y2="657.4" stroke="#F4F4F4" stroke-width="0.6"/>
<line x1="355.36" y1="507.5" x2="355.36" y2="657.4" stroke="#F4F4F4" stroke-width="0.6"/>
<line x1="388.29" y1="507.5" x2="388.29" y2="657.4" stroke="#F4F4F4" stroke-width="0.6"/>
<line x1="421.22" y1="507.5" x2="421.22" y2="657.4" stroke="#F4F4F4" stroke-width="0.6"/>
<line x1="454.15" y1="507.5" x2="454.15" y2="657.4" stroke="#F4F4F4" stroke-width="0.6"/>
<line x1="470.62" y1="507.5" x2="470.62" y2="657.4" stroke="#F4F4F4" stroke-width="0.6"/>
<line x1="280" y1="622.39" x2="489.3" y2="622.39" stroke="#EEEEEE" stroke-width="1.0"/>
<line x1="280" y1="582.4" x2="489.3" y2="582.4" stroke="#EEEEEE" stroke-width="1.0"/>
<line x1="280" y1="542.41" x2="489.3" y2="542.41" stroke="#EEEEEE" stroke-width="1.0"/>
<line x1="305.96" y1="507.5" x2="305.96" y2="657.4" stroke="#EEEEEE" stroke-width="1.0"/>
<line x1="338.89" y1="507.5" x2="338.89" y2="657.4" stroke="#EEEEEE" stroke-width="1.0"/>
<line x1="371.82" y1="507.5" x2="371.82" y2="657.4" stroke="#EEEEEE" stroke-width="1.0"/>
<line x1="404.75" y1="507.5" x2="404.75" y2="657.4" stroke="#EEEEEE" stroke-width="1.0"/>
<line x1="437.69" y1="507.5" x2="437.69" y2="657.4" stroke="#EEEEEE" stroke-width="1.0"/>
</g>
<polygon points="289.50,545.85 291.49,547.55 293.48,549.25 295.46,550.95 297.45,552.64 299.44,554.31 301.43,555.95 303.42,557.56 305.41,559.12 307.39,560.64 309.38,562.11 311.37,563.51 313.36,564.84 315.35,566.09 317.34,567.26 319.32,568.33 321.31,569.30 323.30,570.17 325.29,570.92 327.28,571.56 329.27,572.09 331.25,572.50 333.24,572.80 335.23,572.98 337.22,573.04 339.21,572.98 341.20,572.81 343.18,572.52 345.17,572.13 347.16,571.65 349.15,571.07 351.14,570.41 353.13,569.68 355.11,568.88 357.10,568.01 359.09,567.09 361.08,566.13 363.07,565.13 365.06,564.09 367.04,563.03 369.03,561.95 371.02,560.86 373.01,559.76 375.00,558.66 376.99,557.56 378.97,556.46 380.96,555.36 382.95,554.25 384.94,553.14 386.93,552.03 388.92,550.91 390.90,549.79 392.89,548.66 394.88,547.53 396.87,546.39 398.86,545.24 400.85,544.09 402.83,542.94 404.82,541.77 406.81,540.60 408.80,539.42 410.79,538.24 412.77,537.04 414.76,535.84 416.75,534.63 418.74,533.40 420.73,532.17 422.72,530.93 424.70,529.67 426.69,528.41 428.68,527.13 430.67,525.84 432.66,524.54 434.65,523.23 436.63,521.90 438.62,520.56 440.61,519.21 442.60,517.85 444.59,516.46 446.58,515.07 446.58,562.41 444.59,563.75 442.60,565.07 440.61,566.37 438.62,567.65 436.63,568.92 434.65,570.16 432.66,571.39 430.67,572.59 428.68,573.79 426.69,574.97 424.70,576.13 422.72,577.28 420.73,578.41 418.74,579.54 416.75,580.65 414.76,581.75 412.77,582.84 410.79,583.92 408.80,584.99 406.81,586.05 404.82,587.11 402.83,588.16 400.85,589.20 398.86,590.24 396.87,591.27 394.88,592.30 392.89,593.33 390.90,594.36 388.92,595.38 386.93,596.40 384.94,597.42 382.95,598.45 380.96,599.47 378.97,600.50 376.99,601.53 375.00,602.56 373.01,603.60 371.02,604.64 369.03,605.69 367.04,606.73 365.06,607.76 363.07,608.77 361.08,609.76 359.09,610.72 357.10,611.64 355.11,612.51 353.13,613.34 351.14,614.10 349.15,614.81 347.16,615.43 345.17,615.99 343.18,616.45 341.20,616.83 339.21,617.10 337.22,617.27 335.23,617.34 333.24,617.30 331.25,617.16 329.27,616.91 327.28,616.57 325.29,616.12 323.30,615.58 321.31,614.94 319.32,614.22 317.34,613.40 315.35,612.51 313.36,611.55 311.37,610.54 309.38,609.46 307.39,608.35 305.41,607.20 303.42,606.01 301.43,604.81 299.44,603.59 297.45,602.37 295.46,601.14 293.48,599.93 291.49,598.73 289.50,597.56" fill="rgba(204,64,56,0.2)"/>
<polygon points="329.35,587.92 331.25,590.44 333.15,592.80 335.05,595.02 336.95,597.09 338.85,599.03 340.75,600.82 342.65,602.48 344.55,604.00 346.45,605.40 348.35,606.67 350.25,607.82 352.15,608.84 354.06,609.76 355.96,610.56 357.86,611.25 359.76,611.83 361.66,612.31 363.56,612.69 365.46,612.97 367.36,613.16 369.26,613.25 371.16,613.26 373.06,613.19 374.96,613.03 376.86,612.80 378.77,612.49 380.67,612.11 382.57,611.66 384.47,611.15 386.37,610.58 388.27,609.94 390.17,609.25 392.07,608.51 393.97,607.72 395.87,606.88 397.77,606.00 399.67,605.08 401.57,604.12 403.48,603.13 405.38,602.11 407.28,601.07 409.18,599.99 411.08,598.89 412.98,597.77 414.88,596.62 416.78,595.45 418.68,594.27 420.58,593.06 422.48,591.83 424.38,590.59 426.28,589.33 428.19,588.06 430.09,586.78 431.99,585.48 433.89,584.17 435.79,582.85 437.69,581.52 439.59,580.19 441.49,578.85 443.39,577.50 445.29,576.15 447.19,574.80 449.09,573.45 450.99,572.10 452.90,570.74 454.80,569.39 456.70,568.05 458.60,566.71 460.50,565.37 462.40,564.05 464.30,562.74 466.20,561.45 468.10,560.18 470.00,558.92 471.90,557.69 473.80,556.48 475.70,555.29 477.61,554.14 479.51,553.02 479.51,592.07 477.61,593.29 475.70,594.53 473.80,595.79 471.90,597.06 470.00,598.34 468.10,599.64 466.20,600.95 464.30,602.26 462.40,603.58 460.50,604.91 458.60,606.24 456.70,607.56 454.80,608.89 452.90,610.21 450.99,611.53 449.09,612.84 447.19,614.15 445.29,615.45 443.39,616.74 441.49,618.03 439.59,619.30 437.69,620.57 435.79,621.82 433.89,623.07 431.99,624.30 430.09,625.52 428.19,626.72 426.28,627.91 424.38,629.09 422.48,630.25 420.58,631.39 418.68,632.51 416.78,633.62 414.88,634.71 412.98,635.78 411.08,636.83 409.18,637.85 407.28,638.86 405.38,639.84 403.48,640.80 401.57,641.73 399.67,642.63 397.77,643.50 395.87,644.34 393.97,645.15 392.07,645.91 390.17,646.63 388.27,647.30 386.37,647.93 384.47,648.51 382.57,649.03 380.67,649.50 378.77,649.91 376.86,650.26 374.96,650.54 373.06,650.76 371.16,650.90 369.26,650.98 367.36,650.97 365.46,650.89 363.56,650.73 361.66,650.49 359.76,650.16 357.86,649.74 355.96,649.23 354.06,648.62 352.15,647.92 350.25,647.11 348.35,646.21 346.45,645.19 344.55,644.07 342.65,642.84 340.75,641.49 338.85,640.03 336.95,638.45 335.05,636.74 333.15,634.91 331.25,632.95 329.35,630.86" fill="rgba(60,84,136,0.2)"/>
<line x1="279.5" y1="569.5" x2="489.3" y2="569.5" stroke="#474747" stroke-width="0.9" stroke-dasharray="3.1 2.19"/>
<polyline points="289.50,571.93 291.49,573.25 293.48,574.60 295.46,575.95 297.45,577.31 299.44,578.67 301.43,580.03 303.42,581.36 305.41,582.67 307.39,583.94 309.38,585.17 311.37,586.36 313.36,587.49 315.35,588.55 317.34,589.55 319.32,590.46 321.31,591.28 323.30,592.02 325.29,592.65 327.28,593.17 329.27,593.60 331.25,593.92 333.24,594.14 335.23,594.25 337.22,594.26 339.21,594.15 341.20,593.94 343.18,593.62 345.17,593.21 347.16,592.72 349.15,592.14 351.14,591.48 353.13,590.76 355.11,589.98 357.10,589.14 359.09,588.25 361.08,587.32 363.07,586.36 365.06,585.38 367.04,584.37 369.03,583.35 371.02,582.32 373.01,581.29 375.00,580.26 376.99,579.24 378.97,578.21 380.96,577.19 382.95,576.16 384.94,575.13 386.93,574.11 388.92,573.07 390.90,572.04 392.89,571.00 394.88,569.96 396.87,568.91 398.86,567.85 400.85,566.79 402.83,565.72 404.82,564.64 406.81,563.55 408.80,562.46 410.79,561.35 412.77,560.23 414.76,559.10 416.75,557.96 418.74,556.80 420.73,555.63 422.72,554.44 424.70,553.24 426.69,552.02 428.68,550.79 430.67,549.54 432.66,548.27 434.65,546.98 436.63,545.67 438.62,544.34 440.61,542.99 442.60,541.62 444.59,540.22 446.58,538.80" fill="none" stroke="#E4533F" stroke-width="0.95"/>
<polyline points="329.35,608.96 331.25,611.26 333.15,613.43 335.05,615.45 336.95,617.35 338.85,619.11 340.75,620.75 342.65,622.26 344.55,623.65 346.45,624.92 348.35,626.08 350.25,627.12 352.15,628.06 354.06,628.88 355.96,629.61 357.86,630.23 359.76,630.75 361.66,631.18 363.56,631.52 365.46,631.76 367.36,631.92 369.26,632.00 371.16,631.99 373.06,631.91 374.96,631.75 376.86,631.52 378.77,631.23 380.67,630.86 382.57,630.43 384.47,629.94 386.37,629.39 388.27,628.79 390.17,628.14 392.07,627.44 393.97,626.69 395.87,625.90 397.77,625.06 399.67,624.20 401.57,623.29 403.48,622.36 405.38,621.39 407.28,620.40 409.18,619.39 411.08,618.35 412.98,617.28 414.88,616.19 416.78,615.08 418.68,613.95 420.58,612.80 422.48,611.63 424.38,610.45 426.28,609.24 428.19,608.02 430.09,606.78 431.99,605.53 433.89,604.26 435.79,602.98 437.69,601.69 439.59,600.39 441.49,599.08 443.39,597.76 445.29,596.43 447.19,595.09 449.09,593.75 450.99,592.40 452.90,591.04 454.80,589.68 456.70,588.32 458.60,586.96 460.50,585.60 462.40,584.24 464.30,582.89 466.20,581.55 468.10,580.21 470.00,578.89 471.90,577.58 473.80,576.28 475.70,575.00 477.61,573.74 479.51,572.51" fill="none" stroke="#45548A" stroke-width="0.95"/>
<rect x="280.5" y="491.6" width="209" height="15.5" fill="#E4E4E4" stroke="#7A7A7A" stroke-width="1.2"/>
<text x="385" y="503.1" font-size="10.5" fill="#1A1A1A" text-anchor="middle" font-weight="normal" >DBP (mmHg)</text>
<text x="277.1" y="626.59" font-size="10.4" fill="#4D4D4D" text-anchor="end" font-weight="normal" >0.96</text>
<text x="277.1" y="586.6" font-size="10.4" fill="#4D4D4D" text-anchor="end" font-weight="normal" >0.99</text>
<text x="277.1" y="546.61" font-size="10.4" fill="#4D4D4D" text-anchor="end" font-weight="normal" >1.02</text>
<text x="68.48" y="669.9" font-size="10.4" fill="#4D4D4D" text-anchor="middle" font-weight="normal" >70</text>
<text x="101.44" y="669.9" font-size="10.4" fill="#4D4D4D" text-anchor="middle" font-weight="normal" >80</text>
<text x="134.4" y="669.9" font-size="10.4" fill="#4D4D4D" text-anchor="middle" font-weight="normal" >90</text>
<text x="167.36" y="669.9" font-size="10.4" fill="#4D4D4D" text-anchor="middle" font-weight="normal" >100</text>
<text x="200.32" y="669.9" font-size="10.4" fill="#4D4D4D" text-anchor="middle" font-weight="normal" >110</text>
<text x="305.96" y="669.9" font-size="10.4" fill="#4D4D4D" text-anchor="middle" font-weight="normal" >70</text>
<text x="338.89" y="669.9" font-size="10.4" fill="#4D4D4D" text-anchor="middle" font-weight="normal" >80</text>
<text x="371.82" y="669.9" font-size="10.4" fill="#4D4D4D" text-anchor="middle" font-weight="normal" >90</text>
<text x="404.75" y="669.9" font-size="10.4" fill="#4D4D4D" text-anchor="middle" font-weight="normal" >100</text>
<text x="437.69" y="669.9" font-size="10.4" fill="#4D4D4D" text-anchor="middle" font-weight="normal" >110</text>
<text x="266.5" y="681.5" font-size="10.6" fill="#000" text-anchor="middle" font-weight="normal" >WC (cm)</text>
<text transform="translate(10.1,497.5) rotate(-90)" font-size="10.55" fill="#000" text-anchor="middle">Hazard ratios for 10-unit increase</text>
</svg>
</body></html>
